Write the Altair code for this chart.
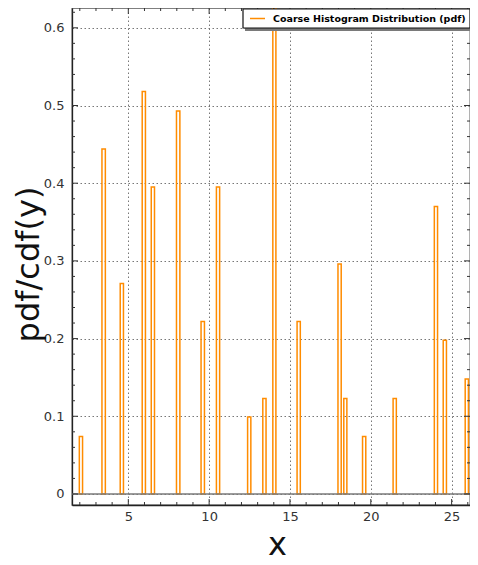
import altair as alt
import pandas as pd

# Histogram bins
bin_left = [1.97, 3.37, 4.50, 5.86, 6.42, 7.98, 9.50, 10.45, 12.38, 13.32, 13.94,
            15.44, 17.97, 18.33, 19.49, 21.38, 23.93, 24.48, 25.84]
bin_right = [2.17, 3.58, 4.70, 6.06, 6.62, 8.19, 9.71, 10.65, 12.58, 13.52, 14.13,
             15.64, 18.17, 18.52, 19.69, 21.58, 24.13, 24.68, 26.04]
density = [0.074, 0.444, 0.271, 0.518, 0.395, 0.493, 0.222, 0.395, 0.099, 0.123, 0.642,
           0.222, 0.296, 0.123, 0.074, 0.123, 0.370, 0.198, 0.148]

legend_label = "Coarse Histogram Distribution (pdf)"
x_title = "x"
y_title = "pdf/cdf(y)"

x_major = [5, 10, 15, 20, 25]
y_major = [0, 0.1, 0.2, 0.3, 0.4, 0.5, 0.6]
x_minor = [v for v in range(2, 27) if v % 5 != 0]
y_minor = [round(i * 0.02, 2) for i in range(0, 32) if i % 5 != 0]

X_DOMAIN = [1.517, 26.137]
Y_DOMAIN = [-0.0142, 0.6255]
W, H = 398, 497
ORANGE = "#ff8c00"
FONT = "DejaVu Sans"

bars_df = pd.DataFrame({"left": bin_left, "right": bin_right, "pdf": density})
bars_df["base"] = 0.0

xs = alt.Scale(domain=X_DOMAIN, nice=False, zero=False)
ys = alt.Scale(domain=Y_DOMAIN, nice=False, zero=False)

bars = alt.Chart(bars_df).mark_rect(
    filled=False, stroke=ORANGE, strokeWidth=1.5, clip=True
).encode(
    x=alt.X("left:Q", scale=xs, axis=alt.Axis(
        values=x_major, title=x_title, grid=True, gridDash=[1.5, 2.5], gridColor="#777",
        gridWidth=1, ticks=False, domain=True, domainColor="#222", domainWidth=1.3,
        labelFont=FONT, labelFontSize=13, labelColor="#333", labelPadding=5,
        titleFont=FONT, titleFontSize=32, titleFontWeight="normal", titleColor="#111",
        titleX=205, titleY=49, titleBaseline="alphabetic", titleAlign="center")),
    x2="right:Q",
    y=alt.Y("pdf:Q", scale=ys, axis=alt.Axis(
        values=y_major, title=y_title, grid=True, gridDash=[1.5, 2.5], gridColor="#777",
        gridWidth=1, ticks=False, domain=True, domainColor="#222", domainWidth=1.3,
        labelExpr="datum.value == 0 ? '0' : format(datum.value, '.1f')",
        labelFont=FONT, labelFontSize=13, labelColor="#333", labelPadding=8,
        titleFont=FONT, titleFontSize=32, titleFontWeight="normal", titleColor="#111",
        titleX=-34, titleY=256, titleAngle=270, titleBaseline="alphabetic",
        titleAlign="center")),
    y2="base:Q",
)

zero_line = alt.Chart(pd.DataFrame({"z": [0.0]})).mark_rule(
    color="#7a7a7a", strokeWidth=1.6, clip=True
).encode(y=alt.Y("z:Q", scale=ys))

def xticks(vals, length):
    df = pd.DataFrame({"v": vals})
    bottom = alt.Chart(df).mark_rule(color="#333", strokeWidth=1, clip=True).encode(
        x=alt.X("v:Q", scale=xs), y=alt.value(H), y2=alt.value(H - length))
    top = alt.Chart(df).mark_rule(color="#333", strokeWidth=1, clip=True).encode(
        x=alt.X("v:Q", scale=xs), y=alt.value(0), y2=alt.value(length))
    return [bottom, top]

def yticks(vals, length):
    df = pd.DataFrame({"v": vals})
    left = alt.Chart(df).mark_rule(color="#333", strokeWidth=1, clip=True).encode(
        y=alt.Y("v:Q", scale=ys), x=alt.value(0), x2=alt.value(length))
    right = alt.Chart(df).mark_rule(color="#333", strokeWidth=1, clip=True).encode(
        y=alt.Y("v:Q", scale=ys), x=alt.value(W), x2=alt.value(W - length))
    return [left, right]

tick_layers = xticks(x_major, 6) + xticks(x_minor, 3) + yticks(y_major, 6) + yticks(y_minor, 3)

leg_df = pd.DataFrame({"label": [legend_label]})
leg_shadow = alt.Chart(leg_df).mark_rect(color="#7a7a7a").encode(
    x=alt.value(173), x2=alt.value(401), y=alt.value(3), y2=alt.value(23))
leg_box = alt.Chart(leg_df).mark_rect(fill="white", stroke="#111", strokeWidth=1.2).encode(
    x=alt.value(171), x2=alt.value(398), y=alt.value(1), y2=alt.value(20))
leg_sym = alt.Chart(leg_df).mark_rule(color=ORANGE, strokeWidth=1.5).encode(
    x=alt.value(178), x2=alt.value(193), y=alt.value(10.5))
leg_text = alt.Chart(leg_df).mark_text(
    align="left", baseline="middle", font=FONT, fontSize=9.5, fontWeight="bold", color="#000"
).encode(x=alt.value(201), y=alt.value(11), text="label:N")

chart = alt.layer(
    bars, zero_line, *tick_layers, leg_shadow, leg_box, leg_sym, leg_text
).properties(
    width=W, height=H,
    autosize=alt.AutoSizeParams(type="none"),
    padding={"left": 64, "top": 0, "right": 0, "bottom": 57},
    background="white",
).configure_view(stroke="#555", strokeWidth=1.3)

chart.save("out.html", embed_options={"renderer": "svg", "actions": False})
